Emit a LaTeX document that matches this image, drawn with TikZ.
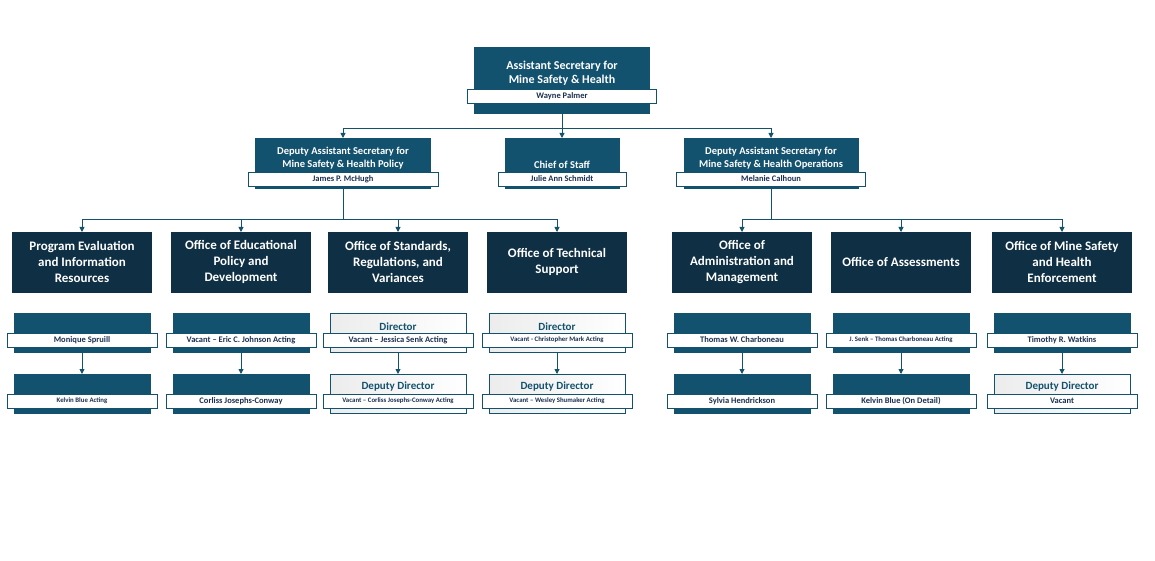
\documentclass[tikz,border=0pt]{standalone}
\usepackage{fontspec}
\setmainfont{Carlito}
\usetikzlibrary{arrows.meta}
\definecolor{teal}{HTML}{13526F}
\definecolor{dark}{HTML}{0F3044}
\definecolor{namec}{HTML}{1B3050}
\begin{document}
\begin{tikzpicture}[x=1pt,y=-1pt,
  hd/.style={draw=teal,fill=teal,text=white,font=\bfseries\fontsize{12}{14}\selectfont,align=center,anchor=north},
  off/.style={draw=dark,fill=dark,text=white,font=\bfseries\fontsize{13}{16}\selectfont,align=center,minimum width=139,minimum height=60,anchor=north},
  bar/.style={draw=teal,fill=white,text=namec,font=\bfseries\fontsize{8.5}{10}\selectfont,minimum height=14,inner sep=1pt},
  sbar/.style={bar,font=\bfseries\fontsize{6.8}{8}\selectfont},
  dirD/.style={draw=teal,fill=teal,text=white,font=\bfseries\fontsize{11}{13}\selectfont,minimum width=136,minimum height=39,anchor=north,text depth=0pt,text height=8pt,label={[font=\bfseries\fontsize{11}{13}\selectfont,text=white]above:{}}},
  dirL/.style={draw=teal,left color=gray!15,right color=white,text=teal,font=\bfseries\fontsize{11}{13}\selectfont,minimum width=136,minimum height=39,anchor=north},
  arr/.style={draw=teal,line width=0.9pt,-{Triangle[length=5pt,width=5pt]}},
  ln/.style={draw=teal,line width=0.9pt}]
\useasboundingbox (0,0) rectangle (1155,561);
% top
\node[hd,minimum width=175,minimum height=66] (top) at (562,47) {};
\node[white,font=\bfseries\fontsize{12}{14}\selectfont,align=center] (toptx) at (562,73) {Assistant Secretary for\\Mine Safety \& Health};
\node[bar,minimum width=189] (topn) at (562,96) {Wayne Palmer};
% level 2
\node[hd,minimum width=175,minimum height=50] (dl) at (343,138) {};
\node[white,font=\bfseries\fontsize{10.5}{13}\selectfont,align=center] (dlt) at (343,158) {Deputy Assistant Secretary for\\Mine Safety \& Health Policy};
\node[bar,minimum width=190] (dln) at (343,179) {James P. McHugh};
\node[hd,minimum width=114,minimum height=50] (cs) at (562,138) {};
\node[white,font=\bfseries\fontsize{10.5}{13}\selectfont] (cst) at (562,165) {Chief of Staff};
\node[bar,minimum width=128] (csn) at (562,179) {Julie Ann Schmidt};
\node[hd,minimum width=174,minimum height=50] (dr) at (771,138) {};
\node[white,font=\bfseries\fontsize{10.5}{13}\selectfont,align=center] (drt) at (771,158) {Deputy Assistant Secretary for\\Mine Safety \& Health Operations};
\node[bar,minimum width=189] (drn) at (771,179) {Melanie Calhoun};
% connectors top
\coordinate (j1) at (562,128);
\draw[ln] (top.south) -- (j1);
\draw[arr] (j1) -| (dl.north);
\draw[arr] (j1) -| (dr.north);
\draw[arr] (j1) -- (cs.north);
% columns
\newcommand\mycol[7]{%
  \node[off] (o#1) at (#2,232) {#3};
  \node[#6] (d#1) at (#2,313) {};
  \node[text=\ifx#6dirD white\else teal\fi,font=\bfseries\fontsize{11}{13}\selectfont] at (#2,327) {Director};
  \node[#4] (dn#1) at (#2,340) {\strut};
  \node[#7] (p#1) at (#2,374) {};
  \node[text=\ifx#7dirD white\else teal\fi,font=\bfseries\fontsize{11}{13}\selectfont] at (#2,387) {Deputy Director};
  \node[#5] (pn#1) at (#2,401) {\strut};
  \draw[arr] (d#1.south) -- (p#1.north);
}
\newcommand\nm[3]{\node[#1,minimum width=150] at (#2) {#3};}
\mycol{1}{82}{Program Evaluation\\and Information\\Resources}{bar}{sbar}{dirD}{dirD}
\mycol{2}{241}{Office of Educational\\Policy and\\Development}{bar}{bar}{dirD}{dirD}
\mycol{3}{398}{Office of Standards,\\Regulations, and\\Variances}{bar}{sbar}{dirL}{dirL}
\mycol{4}{557}{Office of Technical\\Support}{sbar}{sbar}{dirL}{dirL}
\mycol{5}{742}{Office of\\Administration and\\Management}{bar}{bar}{dirD}{dirD}
\mycol{6}{901}{Office of Assessments}{bar}{bar}{dirD}{dirD}
\mycol{7}{1062}{Office of Mine Safety\\and Health\\Enforcement}{bar}{bar}{dirD}{dirL}
\nm{bar}{dn1}{Monique Spruill}\nm{sbar}{pn1}{Kelvin Blue Acting}
\nm{bar}{dn2}{Vacant -- Eric C. Johnson Acting}\nm{bar}{pn2}{Corliss Josephs-Conway}
\nm{bar}{dn3}{Vacant -- Jessica Senk Acting}\nm{sbar}{pn3}{Vacant -- Corliss Josephs-Conway Acting}
\nm{sbar}{dn4}{Vacant - Christopher Mark Acting}\nm{sbar}{pn4}{Vacant -- Wesley Shumaker Acting}
\nm{bar}{dn5}{Thomas W. Charboneau}\nm{bar}{pn5}{Sylvia Hendrickson}
\nm{sbar}{dn6}{J. Senk -- Thomas Charboneau Acting}\nm{bar}{pn6}{Kelvin Blue (On Detail)}
\nm{bar}{dn7}{Timothy R. Watkins}\nm{bar}{pn7}{Vacant}
% office connectors
\coordinate (j2) at (343,219);
\coordinate (j3) at (771,219);
\draw[ln] (dl.south) -- (j2);
\draw[ln] (dr.south) -- (j3);
\foreach \i in {1,2,3,4} \draw[arr] (j2) -| (o\i.north);
\foreach \i in {5,6,7} \draw[arr] (j3) -| (o\i.north);
\end{tikzpicture}
\end{document}
